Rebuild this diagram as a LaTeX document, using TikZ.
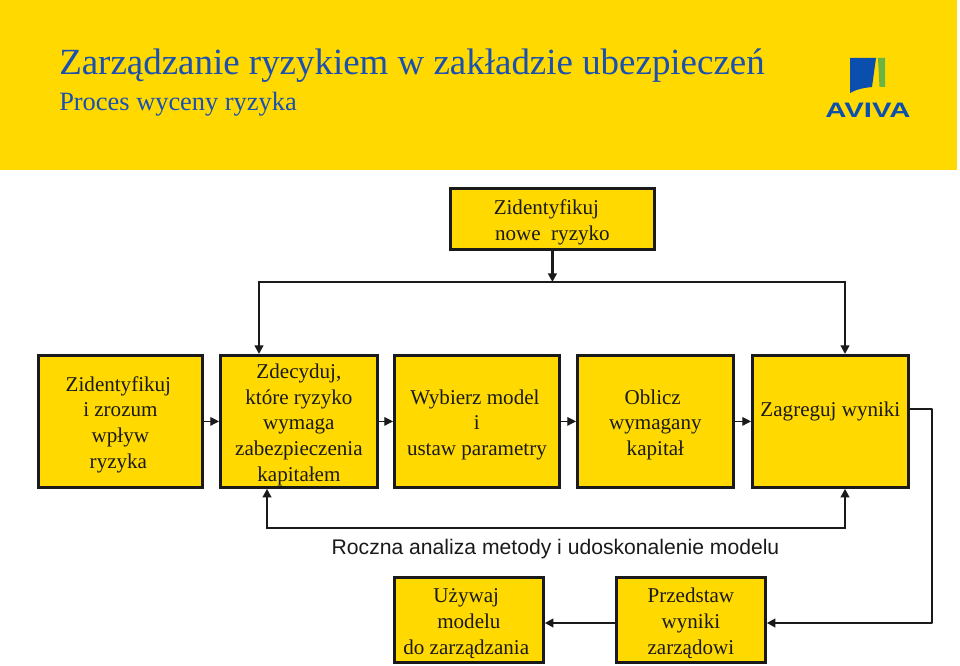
\documentclass[tikz,border=0pt]{standalone}
\usepackage{graphicx}
\usepackage{fontspec}
\setmainfont{Liberation Serif}
\newfontfamily\arialf{Liberation Sans}
\usetikzlibrary{arrows.meta,calc}
\definecolor{avyellow}{HTML}{FFD900}
\definecolor{avblue}{HTML}{0B4FAE}
\definecolor{avtitle}{HTML}{1A50B0}
\definecolor{avgreen}{HTML}{6DB33F}
\definecolor{avink}{HTML}{1A1A1A}
\tikzset{
  x=0.75pt,y=-0.75pt,
  stepbox/.style={draw=avink,line width=2.1pt,fill=avyellow,text=avink,align=center,inner sep=0pt,
    font=\fontsize{15.8}{19.2}\selectfont,anchor=north west},
  heavy/.style={draw=avink,line width=1.9pt,line cap=round,line join=round},
  heavyarrow/.style={heavy,-{Triangle[length=6.5pt,width=6.5pt]}},
  thinarrow/.style={draw=avink,line width=0.8pt,-{Triangle[length=6.5pt,width=6.5pt]}},
}
\newcommand{\stepnode}[6]{\node[stepbox,minimum width=#4*0.75pt,minimum height=#5*0.75pt] (#1) at (#2,#3) {\rule{0pt}{16pt}#6};}
\begin{document}
\begin{tikzpicture}
\useasboundingbox (0,0) rectangle (960,666);
\fill[white] (0,0) rectangle (960,666);
\fill[avyellow] (0,0) rectangle (957,170);
\node[anchor=base west,inner sep=0pt,text=avtitle,font=\fontsize{27.7}{30}\selectfont] (title) at (59,74.5) {Zarządzanie ryzykiem w zakładzie ubezpieczeń};
\node[anchor=base west,inner sep=0pt,text=avtitle,font=\fontsize{19.8}{22}\selectfont] (subtitle) at (59,111) {Proces wyceny ryzyka};
% logo
\fill[avblue] (850,58) -- (876,58) -- (872,87) .. controls (862,88) and (855,90) .. (850,93) -- cycle;
\fill[avgreen] (878,58) -- (885,58) -- (885,87) -- (879.5,87) -- cycle;
\node[anchor=base,inner sep=0pt,text=avblue,font=\arialf\bfseries\fontsize{15.7}{18}\selectfont] (logo) at (868,118) {\scalebox{1.4}[1]{AVIVA}};
% boxes
\stepnode{top}{449}{187}{204}{61}{Zidentyfikuj\hspace*{9pt}\\nowe\ \ ryzyko}
\stepnode{b1}{37}{354}{164}{132}{Zidentyfikuj\hspace*{3pt}\\i zrozum\hspace*{3pt}\\wpływ\hspace*{3pt}\\ryzyka\hspace*{3pt}}
\stepnode{b2}{219}{354}{157}{132}{Zdecyduj,\\które ryzyko\\wymaga\\zabezpieczenia\\kapitałem}
\stepnode{b3}{393}{354}{165}{132}{Wybierz model\hspace*{3pt}\\i\hspace*{3pt}\\ustaw parametry}
\stepnode{b4}{576}{354}{156}{132}{Oblicz\hspace*{4pt}\\wymagany\hspace*{4pt}\\kapitał}
\stepnode{b5}{751}{354}{156}{132}{Zagreguj wyniki\\\rule[-4.3pt]{0pt}{0pt}}
\stepnode{b6}{393}{576}{149}{85}{Używaj\hspace*{4pt}\\modelu\hspace*{4pt}\\do zarządzania\hspace*{4pt}}
\stepnode{b7}{615}{576}{149}{85}{Przedstaw\\wyniki\\zarządowi}
\node[anchor=base,inner sep=0pt,text=avink,font=\arialf\fontsize{15.85}{18}\selectfont] (roczna) at (555.5,554) {Roczna analiza metody i udoskonalenie modelu};
% junction coordinates
\coordinate (ja) at (259,282);
\coordinate (jb) at (845,282);
\coordinate (jc) at (267,528);
\coordinate (jd) at (845,528);
\coordinate (je) at (932,409);
\coordinate (jf) at (932,623);
% connectors
\draw[heavyarrow] (top.south) -- (top.south |- ja);
\draw[heavy] (ja) -- (jb);
\draw[heavyarrow] (ja) -- (ja |- b2.north);
\draw[heavyarrow] (jb) -- (jb |- b5.north);
\draw[heavy] (jc) -- (jd);
\draw[heavyarrow] (jc) -- (jc |- b2.south);
\draw[heavyarrow] (jd) -- (jd |- b5.south);
\draw[heavyarrow] (b5.east |- je) -- (je) -- (jf) -- (b7.east |- jf);
\draw[heavyarrow] (b7.west |- jf) -- (b6.east |- jf);
\draw[thinarrow] (b1.east) -- (b2.west);
\draw[thinarrow] (b2.east) -- (b3.west);
\draw[thinarrow] (b3.east) -- (b4.west);
\draw[thinarrow] (b4.east) -- (b5.west);
\end{tikzpicture}
\end{document}
